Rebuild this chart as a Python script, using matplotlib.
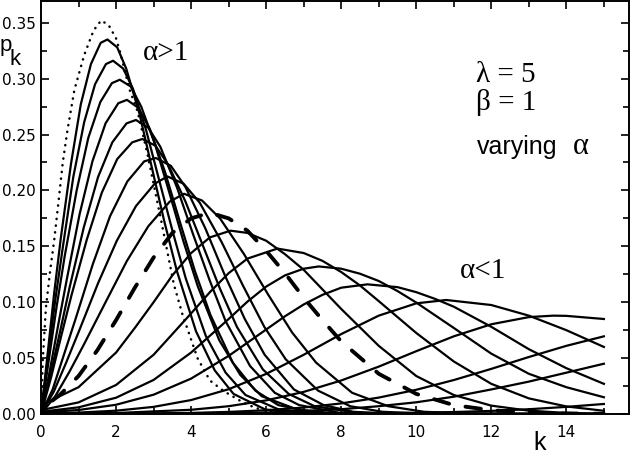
import matplotlib.pyplot as plt
from matplotlib.ticker import MultipleLocator, FormatStrFormatter

# limiting curve (dotted)
k_dot = [0, 0.05, 0.13, 0.25, 0.35, 0.45, 0.58, 0.71, 0.89, 1.15, 1.4, 1.6, 1.8, 2.0, 2.13, 2.35,
         2.57, 2.84, 3.06, 3.19, 3.54, 3.77, 4.17, 4.5, 4.87, 5.32, 5.7, 6.0, 6.5]
p_dot = [0, 0.05, 0.095, 0.13, 0.155, 0.185, 0.225, 0.255, 0.29, 0.321, 0.343, 0.352, 0.348, 0.336, 0.321, 0.291,
         0.271, 0.232, 0.196, 0.175, 0.116, 0.089, 0.05, 0.03, 0.0205, 0.0116, 0.0056, 0.003, 0.001]

# alpha = 1 (dashed)
k_poi = [0.3, 0.5, 1, 1.5, 2, 2.5, 3, 3.5, 4, 4.5, 5, 5.5, 6, 6.5, 7, 7.5, 8, 9, 10, 11, 12, 13, 14, 15]
p_poi = [0.012, 0.017, 0.034, 0.057, 0.084, 0.113, 0.14, 0.162, 0.175, 0.18, 0.175, 0.164, 0.146, 0.126,
         0.104, 0.084, 0.065, 0.036, 0.018, 0.008, 0.0034, 0.0013, 0.0005, 0.0002]

# alpha > 1
k_a1 = [0, 0.18, 0.35, 0.53, 0.8, 1.06, 1.33, 1.59, 1.77, 2.03, 2.27, 2.62, 2.95, 3.28, 3.62, 4.13, 4.63, 5.13, 5.98, 7.21, 15]
p_a1 = [0, 0.055, 0.108, 0.158, 0.224, 0.277, 0.313, 0.332, 0.335, 0.328, 0.309, 0.269, 0.221, 0.173, 0.128, 0.074, 0.039, 0.018, 0.004, 0.0005, 0]
k_a2 = [0, 0.19, 0.38, 0.58, 0.86, 1.15, 1.44, 1.73, 1.92, 2.19, 2.45, 2.8, 3.15, 3.51, 3.86, 4.39, 4.92, 5.45, 6.34, 7.51, 15]
p_a2 = [0, 0.052, 0.102, 0.149, 0.212, 0.261, 0.295, 0.313, 0.316, 0.309, 0.291, 0.254, 0.209, 0.163, 0.121, 0.07, 0.037, 0.017, 0.004, 0.0005, 0]
k_a3 = [0, 0.21, 0.42, 0.63, 0.95, 1.26, 1.58, 1.89, 2.1, 2.39, 2.67, 3.05, 3.42, 3.8, 4.18, 4.75, 5.31, 5.88, 6.83, 7.86, 15]
p_a3 = [0, 0.049, 0.097, 0.141, 0.2, 0.247, 0.279, 0.296, 0.299, 0.293, 0.275, 0.24, 0.198, 0.154, 0.114, 0.066, 0.035, 0.016, 0.004, 0.0005, 0]
k_a4 = [0, 0.23, 0.46, 0.69, 1.03, 1.37, 1.72, 2.06, 2.29, 2.59, 2.9, 3.3, 3.7, 4.1, 4.51, 5.11, 5.71, 6.32, 7.33, 8.63, 15]
p_a4 = [0, 0.038, 0.08, 0.121, 0.179, 0.226, 0.26, 0.278, 0.281, 0.274, 0.255, 0.217, 0.172, 0.128, 0.089, 0.046, 0.021, 0.008, 0.001, 0, 0]
k_a5 = [0, 0.25, 0.51, 0.76, 1.14, 1.52, 1.9, 2.28, 2.53, 2.86, 3.18, 3.62, 4.05, 4.49, 4.92, 5.57, 6.23, 6.88, 7.97, 8.95, 15]
p_a5 = [0, 0.035, 0.074, 0.113, 0.167, 0.212, 0.243, 0.26, 0.263, 0.256, 0.239, 0.203, 0.161, 0.12, 0.083, 0.043, 0.019, 0.008, 0.001, 0, 0]
k_a6 = [0, 0.27, 0.54, 0.81, 1.22, 1.62, 2.03, 2.43, 2.7, 3.05, 3.39, 3.85, 4.31, 4.77, 5.22, 5.91, 6.6, 7.29, 8.44, 9.76, 15]
p_a6 = [0, 0.033, 0.07, 0.106, 0.156, 0.198, 0.228, 0.243, 0.246, 0.24, 0.223, 0.19, 0.151, 0.112, 0.078, 0.04, 0.018, 0.007, 0.001, 0, 0]
k_a7 = [0, 0.31, 0.61, 0.92, 1.38, 1.84, 2.3, 2.75, 3.06, 3.46, 3.85, 4.38, 4.9, 5.43, 5.96, 6.74, 7.53, 8.32, 9.63, 15]
p_a7 = [0, 0.022, 0.053, 0.085, 0.134, 0.177, 0.208, 0.226, 0.229, 0.222, 0.203, 0.166, 0.124, 0.085, 0.053, 0.022, 0.008, 0.002, 0, 0]
k_a8 = [0, 0.34, 0.67, 1.01, 1.52, 2.02, 2.53, 3.03, 3.37, 3.8, 4.23, 4.81, 5.38, 5.95, 6.52, 7.38, 8.24, 9.1, 10.54, 15]
p_a8 = [0, 0.02, 0.046, 0.074, 0.117, 0.155, 0.186, 0.206, 0.2125, 0.206, 0.189, 0.154, 0.115, 0.078, 0.049, 0.021, 0.007, 0.002, 0, 0]
k_a9 = [0, 0.38, 0.76, 1.14, 1.72, 2.29, 2.86, 3.43, 3.81, 4.29, 4.77, 5.41, 6.05, 6.69, 7.33, 8.29, 9.25, 10.21, 11.78, 15]
p_a9 = [0, 0.016, 0.038, 0.062, 0.1, 0.137, 0.168, 0.19, 0.197, 0.191, 0.175, 0.143, 0.107, 0.073, 0.046, 0.019, 0.007, 0.002, 0, 0]

# alpha < 1
k_b1 = [0, 1, 2, 2.5, 3, 3.5, 4, 4.5, 5.05, 5.5, 6, 6.5, 7, 8, 9, 10, 11, 12, 13, 14, 15]
p_b1 = [0.008, 0.024, 0.055, 0.077, 0.1, 0.124, 0.144, 0.158, 0.164, 0.162, 0.155, 0.143, 0.129, 0.094, 0.061, 0.034, 0.017, 0.0075, 0.003, 0.001, 0.0003]
k_b2 = [0, 1, 2, 3, 4, 4.5, 5, 5.5, 6.3, 7, 7.5, 8, 8.5, 9, 10, 11, 12, 13, 14, 15]
p_b2 = [0.0035, 0.0104, 0.026, 0.053, 0.09, 0.109, 0.126, 0.139, 0.148, 0.144, 0.137, 0.127, 0.115, 0.101, 0.0725, 0.047, 0.027, 0.014, 0.0068, 0.0029]
k_b3 = [0, 1, 2, 3, 4, 5, 5.5, 6, 6.5, 7, 7.4, 8, 8.5, 9, 9.5, 10, 11, 12, 13, 14, 15]
p_b3 = [0.002, 0.006, 0.0146, 0.0305, 0.055, 0.085, 0.1005, 0.114, 0.124, 0.13, 0.132, 0.13, 0.1255, 0.119, 0.11, 0.0997, 0.077, 0.054, 0.036, 0.024, 0.015]
k_b4 = [0, 1, 2, 3, 4, 5, 6, 6.5, 7, 7.5, 8, 8.7, 9.5, 10, 10.5, 11, 12, 13, 14, 15]
p_b4 = [0.0014, 0.0036, 0.0083, 0.0173, 0.0317, 0.052, 0.0756, 0.0874, 0.098, 0.1066, 0.113, 0.116, 0.1135, 0.109, 0.103, 0.096, 0.078, 0.058, 0.041, 0.027]
k_b5 = [0, 1, 2, 3, 4, 5, 6, 7, 8, 9, 10, 10.8, 12, 13, 14, 15]
p_b5 = [0.0005, 0.0013, 0.003, 0.0064, 0.0125, 0.0222, 0.0359, 0.053, 0.0715, 0.088, 0.099, 0.102, 0.0975, 0.088, 0.075, 0.06]
k_b6 = [0, 2, 4, 5, 6, 7, 8, 9, 10, 11, 12, 13, 13.65, 14, 15]
p_b6 = [0.0002, 0.0009, 0.0038, 0.007, 0.0122, 0.0198, 0.03, 0.0424, 0.0562, 0.0695, 0.0803, 0.0867, 0.088, 0.0878, 0.085]
k_b7 = [0, 2, 4, 5, 6, 7, 8, 9, 10, 11, 12, 13, 14, 15]
p_b7 = [0, 0.0002, 0.001, 0.0019, 0.0034, 0.0058, 0.0095, 0.0147, 0.0217, 0.0304, 0.0404, 0.051, 0.061, 0.0695]
k_b8 = [0, 4, 6, 8, 9, 10, 11, 12, 13, 14, 15]
p_b8 = [0, 0.0003, 0.0013, 0.0043, 0.007, 0.0105, 0.0155, 0.022, 0.029, 0.037, 0.045]
k_b9 = [0, 8, 10, 11, 12, 13, 14, 15]
p_b9 = [0, 0.0004, 0.0011, 0.0018, 0.0028, 0.0043, 0.0064, 0.009]

solid = [(k_a1, p_a1), (k_a2, p_a2), (k_a3, p_a3), (k_a4, p_a4), (k_a5, p_a5), (k_a6, p_a6),
         (k_a7, p_a7), (k_a8, p_a8), (k_a9, p_a9),
         (k_b1, p_b1), (k_b2, p_b2), (k_b3, p_b3), (k_b4, p_b4), (k_b5, p_b5), (k_b6, p_b6),
         (k_b7, p_b7), (k_b8, p_b8), (k_b9, p_b9)]

fig = plt.figure(figsize=(6.32, 4.58), dpi=100)
ax = fig.add_axes([0.0649, 0.096, 0.9304, 0.902])

for k, p in solid:
    ax.plot(k, p, color='black', lw=1.6, solid_joinstyle='round')
ax.plot(k_poi, p_poi, color='black', lw=2.8, linestyle=(0, (4, 4.3)), dash_capstyle='round')
ax.plot(k_dot, p_dot, color='black', lw=1.8, linestyle=(0, (0.1, 2.6)), dash_capstyle='round')

ax.set_xlim(0, 15.67)
ax.set_ylim(0, 0.3695)
ax.xaxis.set_major_locator(MultipleLocator(2))
ax.xaxis.set_minor_locator(MultipleLocator(1))
ax.yaxis.set_major_locator(MultipleLocator(0.05))
ax.yaxis.set_minor_locator(MultipleLocator(0.025))
ax.yaxis.set_major_formatter(FormatStrFormatter('%.2f'))
ax.tick_params(which='both', direction='in', top=True, right=True, width=1.2, color='black',
               labelsize=11)
ax.tick_params(which='major', length=6)
ax.tick_params(which='minor', length=4)
ax.tick_params(axis='x', pad=8)
ax.tick_params(axis='y', pad=4)
for s in ax.spines.values():
    s.set_linewidth(1.4)

# annotations
ax.text(2.71, 0.3166, 'α>1', family='Liberation Serif', fontsize=21, va='baseline')
ax.text(11.16, 0.122, 'α<1', family='Liberation Serif', fontsize=21, va='baseline')
ax.text(11.59, 0.297, 'λ = 5', family='Liberation Serif', fontsize=21, va='baseline')
ax.text(11.59, 0.2717, 'β = 1', family='Liberation Serif', fontsize=21, va='baseline')
ax.text(11.62, 0.233, 'varying', family='Liberation Sans', fontsize=18, va='baseline')
ax.text(14.17, 0.233, 'α', family='Liberation Serif', fontsize=22, va='baseline')

fig.text(0 / 632, 1 - 50.5 / 458, 'p', family='Liberation Sans', fontsize=16, va='baseline')
fig.text(9.5 / 632, 1 - 65 / 458, 'k', family='Liberation Sans', fontsize=16, va='baseline')
fig.text(533 / 632, 1 - 450 / 458, 'k', family='Liberation Sans', fontsize=18, va='baseline')

fig.savefig('out.png', dpi=100)
